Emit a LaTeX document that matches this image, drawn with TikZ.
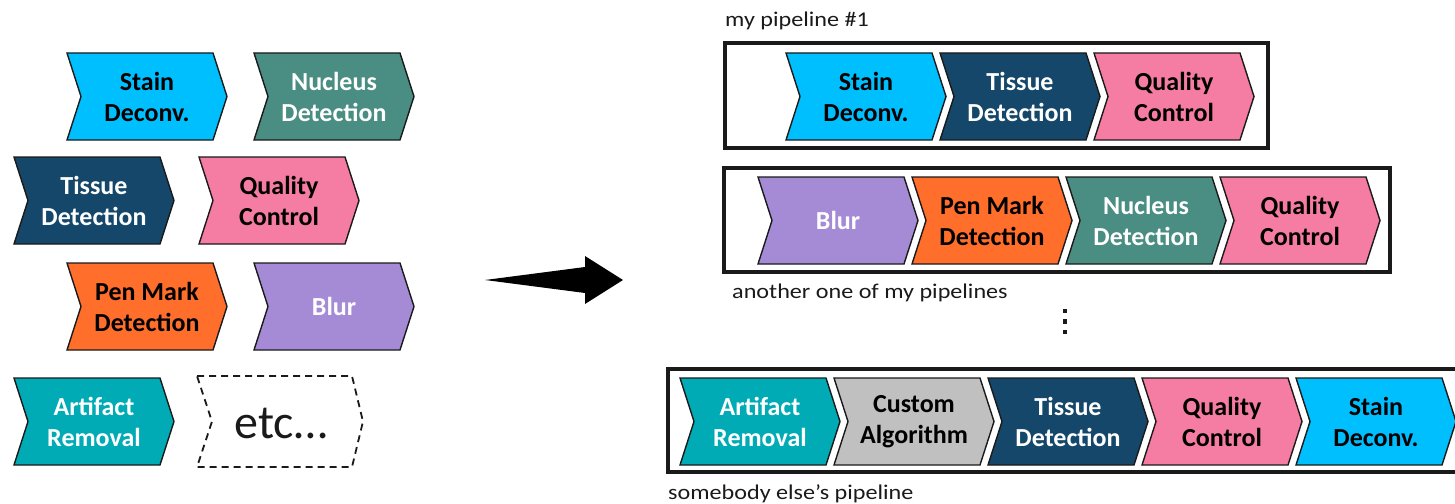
\documentclass[tikz,border=0pt]{standalone}
\usepackage{fontspec}
\setmainfont{Carlito}
\newfontfamily\labelfont[FakeStretch=1.15]{Carlito}

\definecolor{cStain}{HTML}{00BFFF}
\definecolor{cNucleus}{HTML}{4A8D83}
\definecolor{cTissue}{HTML}{14476A}
\definecolor{cQuality}{HTML}{F57CA3}
\definecolor{cPen}{HTML}{FF6E2B}
\definecolor{cBlur}{HTML}{A58BD6}
\definecolor{cArtifact}{HTML}{00ABB6}
\definecolor{cCustom}{HTML}{C0C0C0}
\definecolor{cInk}{HTML}{1A1A1A}

% one processing stage: name, left x, top y, fill, text colour, label
\newcommand\chevstage[6]{%
  \path[chev, fill=#4] (#2,#3) -- ++(146,0) -- ++(14,43.5) -- ++(-14,43.5)
       -- ++(-146,0) -- ++(14,-43.5) -- cycle;
  \node[stagetext, text=#5] (#1) at ({#2+80},{#3+43.5}) {#6};
}

\begin{document}
\begin{tikzpicture}[x=1pt,y=-1pt,
  chev/.style={draw=cInk, line width=1.4pt, line join=miter},
  stagetext/.style={inner sep=0pt, align=center,
                    font=\bfseries\fontsize{26}{31}\selectfont},
  frame/.style={draw=cInk, line width=3.2pt},
  caption/.style={anchor=base west, inner sep=0pt,
                  font=\labelfont\fontsize{21}{25}\selectfont, text=cInk},
]
\useasboundingbox (0,0) rectangle (1455,503);
\clip (0,0) rectangle (1455,503);

% ---- catalogue of available stages ----
\chevstage{stainA}{67}{53}{cStain}{black}{Stain\\Deconv.}
\chevstage{nucleusA}{254}{53}{cNucleus}{white}{Nucleus\\Detection}
\chevstage{tissueA}{14}{157}{cTissue}{white}{Tissue\\Detection}
\chevstage{qualityA}{199}{157}{cQuality}{black}{Quality\\Control}
\chevstage{penA}{67}{263}{cPen}{black}{Pen Mark\\Detection}
\chevstage{blurA}{254}{263}{cBlur}{white}{Blur}
\chevstage{artifactA}{14}{378}{cArtifact}{white}{Artifact\\Removal}

\path[draw=cInk, line width=1.8pt, dash pattern=on 7pt off 5pt, line join=miter]
  (197,376) -- (352,376) -- (363,421.5) -- (352,467) -- (197,467) -- (212,421.5) -- cycle;
\node[anchor=base, inner sep=0pt, font=\fontsize{48}{52}\selectfont, text=cInk]
  (etc) at (281,438) {etc…};

% ---- big arrow ----
\coordinate (arrowtail) at (485,280);
\coordinate (arrowtip) at (623,280);
\fill[black] (arrowtail) -- (585,267) -- (585,256) -- (arrowtip)
  -- (585,304) -- (585,293) -- cycle;

% ---- pipeline 1 ----
\node[caption] (cap1) at (725,27) {my pipeline \#1};
\draw[frame] (725,43) rectangle (1268,148);
\chevstage{ponestain}{786}{53}{cStain}{black}{Stain\\Deconv.}
\chevstage{ponetissue}{940}{53}{cTissue}{white}{Tissue\\Detection}
\chevstage{ponequality}{1094}{53}{cQuality}{black}{Quality\\Control}

% ---- pipeline 2 ----
\draw[frame] (724,168) rectangle (1390,272);
\chevstage{ptwoblur}{758}{177}{cBlur}{white}{Blur}
\chevstage{ptwopen}{912}{177}{cPen}{black}{Pen Mark\\Detection}
\chevstage{ptwonucleus}{1066}{177}{cNucleus}{white}{Nucleus\\Detection}
\chevstage{ptwoquality}{1220}{177}{cQuality}{black}{Quality\\Control}
\node[caption] (cap2) at (732,298) {another one of my pipelines};

% ---- vertical ellipsis ----
\foreach \yy in {311,321.5,332}
  \fill[cInk] (1062.7,{\yy-2.3}) rectangle ++(4.6,4.6);

% ---- pipeline 3 ----
\draw[frame] (668,369) rectangle (1475,472);
\chevstage{pthreeartifact}{680}{378}{cArtifact}{white}{Artifact\\Removal}
\chevstage{pthreecustom}{834}{378}{cCustom}{black}{Custom\\Algorithm}
\chevstage{pthreetissue}{988}{378}{cTissue}{white}{Tissue\\Detection}
\chevstage{pthreequality}{1142}{378}{cQuality}{black}{Quality\\Control}
\chevstage{pthreestain}{1296}{378}{cStain}{black}{Stain\\Deconv.}
\node[caption] (cap3) at (668,499) {somebody else’s pipeline};
\end{tikzpicture}
\end{document}
